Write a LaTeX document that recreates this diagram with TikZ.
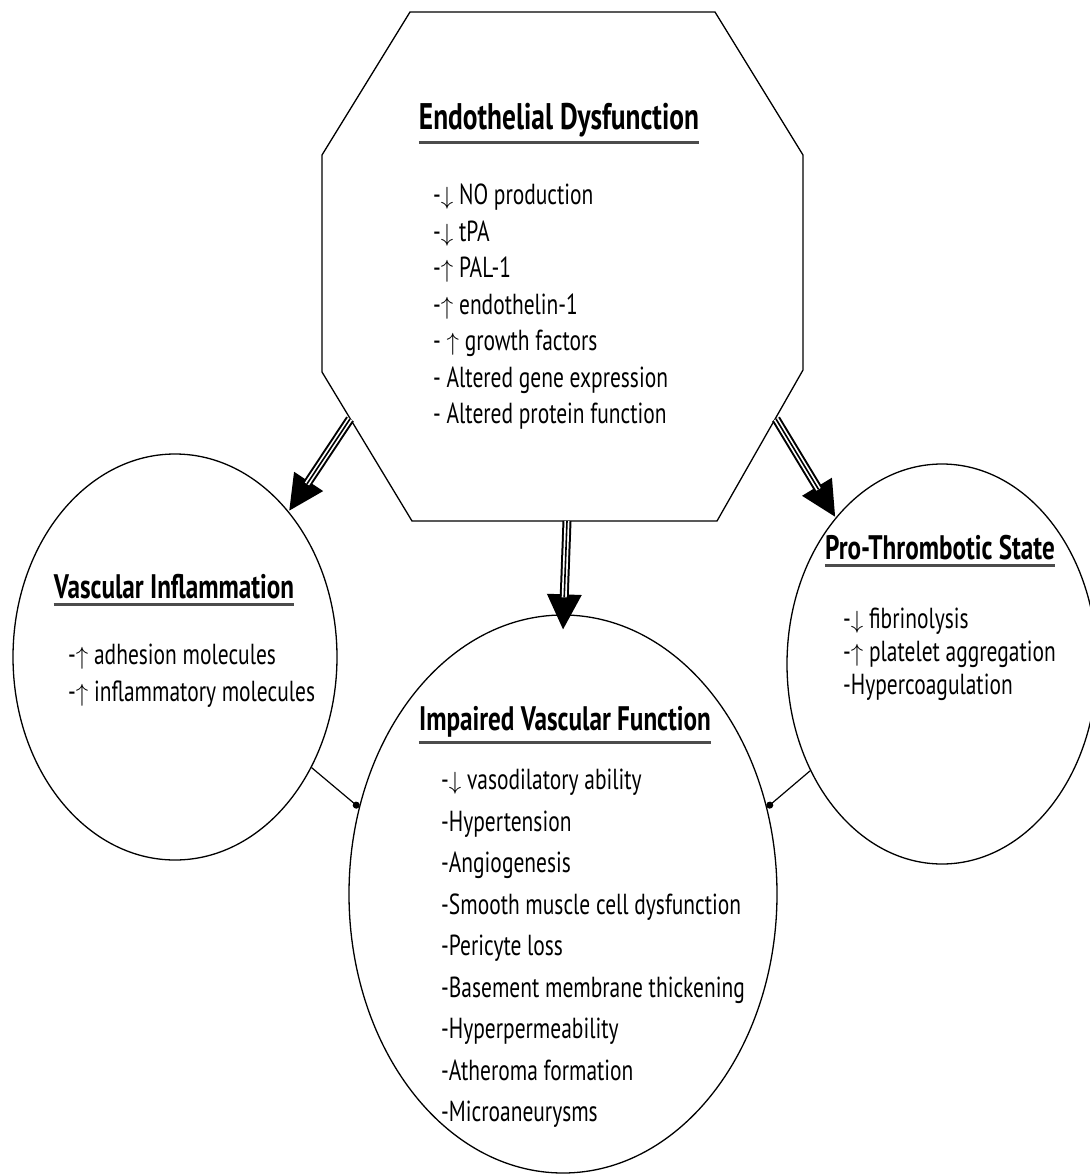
\documentclass[tikz,border=0pt]{standalone}
\usepackage{fontspec}
\setmainfont{PT Sans}[FakeStretch=0.74]
\usetikzlibrary{arrows.meta,shapes.geometric}
\newcommand{\up}{$\uparrow$}
\newcommand{\down}{$\downarrow$}

\begin{document}
\begin{tikzpicture}[x=1pt,y=-1pt]
\tikzset{bubble/.style = {shape=ellipse,draw,line width=1.3pt,inner sep=0}}
\tikzset{title/.style = {font=\fontsize{34}{38}\selectfont\bfseries,inner sep=0}}
\tikzset{items/.style = {font=\fontsize{29}{36.5}\selectfont,align=left,anchor=north west,inner sep=0}}
\tikzset{uline/.style = {line width=3pt,black!70}}
\tikzset{bigarrow/.style = {line width=9pt,-{Triangle[length=36pt,width=32pt]},
  postaction={draw=white,line width=5pt,-,shorten >=33pt},
  postaction={draw=black,line width=1.6pt,-,shorten >=33pt}}}
\tikzset{link/.style = {line width=1.2pt,-{Circle[length=7pt]}}}
\useasboundingbox (0,0) rectangle (1090,1176);
% circles
\node[bubble,minimum width=324,minimum height=406] (vi) at (175,657) {};
\node[bubble,minimum width=310,minimum height=400] (pt) at (942,664) {};
\node[bubble,minimum width=428,minimum height=558] (ivf) at (563,894) {};
% octagon
\draw[line width=1.3pt] (410,12) -- (715,12) -- (803,155) -- (803,370) -- (717,521)
  -- (412,521) -- (322,372) -- (322,155) -- cycle;
\coordinate (edL) at (350,419);
\coordinate (edR) at (776,419);
\coordinate (edB) at (567,521);
% texts
\node[title,font=\fontsize{37}{42}\selectfont\bfseries] (edT) at (559,120) {Endothelial Dysfunction};
\draw[uline] ([yshift=-5pt]edT.south west) -- ([yshift=-5pt]edT.south east);
\node[items] (edI) at (433,184) {-\down{} NO production\\-\down{} tPA\\-\up{} PAL-1\\
  -\up{} endothelin-1\\- \up{} growth factors\\- Altered gene expression\\- Altered protein function};
\node[title] (viT) at (174,587) {Vascular Inflammation};
\draw[uline] ([yshift=-5pt]viT.south west) -- ([yshift=-5pt]viT.south east);
\node[items] (viI) at (68,644) {-\up{} adhesion molecules\\-\up{} inflammatory molecules};
\node[title] (ptT) at (940,548) {Pro-Thrombotic State};
\draw[uline] ([yshift=-5pt]ptT.south west) -- ([yshift=-5pt]ptT.south east);
\node[items,font=\fontsize{29}{33}\selectfont] (ptI) at (843,608) {-\down{} fibrinolysis\\-\up{} platelet aggregation\\-Hypercoagulation};
\node[title] (ivfT) at (565,722) {Impaired Vascular Function};
\draw[uline] ([yshift=-5pt]ivfT.south west) -- ([yshift=-5pt]ivfT.south east);
\node[items,font=\fontsize{29}{41.5}\selectfont] (ivfI) at (441,769) {-\down{} vasodilatory ability\\-Hypertension\\
  -Angiogenesis\\-Smooth muscle cell dysfunction\\-Pericyte loss\\-Basement membrane thickening\\
  -Hyperpermeability\\-Atheroma formation\\-Microaneurysms};
% edges
\draw[bigarrow] (edL) to (vi.52);
\draw[bigarrow] (edR) to (pt.126);
\draw[bigarrow] (edB) to ([yshift=-16pt]ivf.north);
\draw[link] (vi.-39) to (ivf.157);
\draw[link] (pt.-141) to (ivf.23);
\end{tikzpicture}
\end{document}
